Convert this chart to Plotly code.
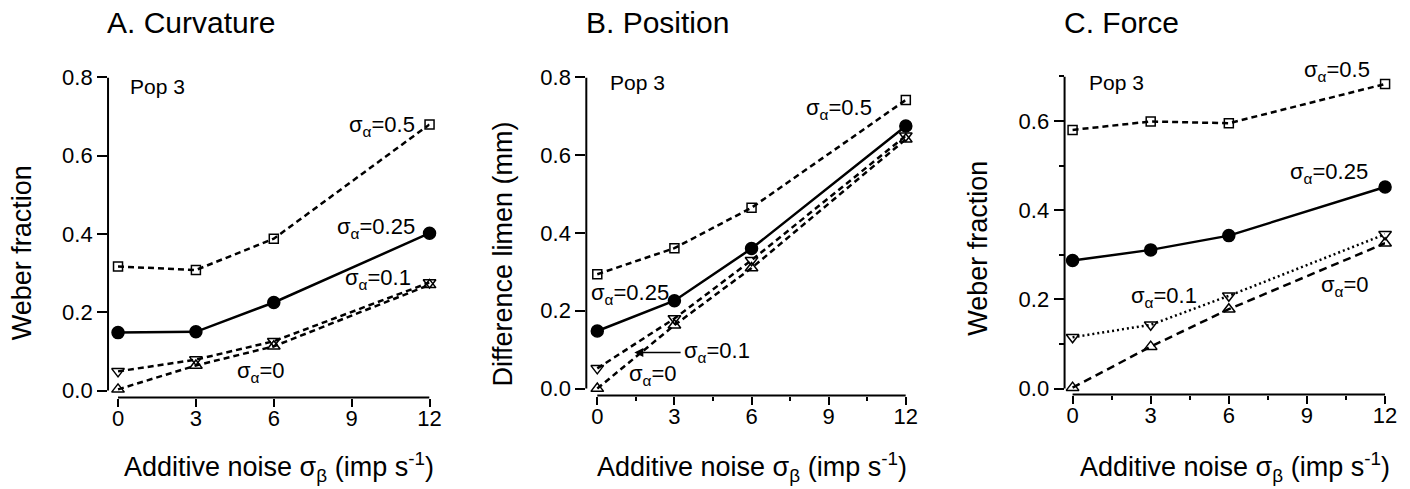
import plotly.graph_objects as go

# ---------------- data ----------------
noise = [0, 3, 6, 12]
x_ticks = [0, 3, 6, 9, 12]

# Panel A: Curvature (Weber fraction)
curv_s05 = [0.317, 0.308, 0.388, 0.680]
curv_s025 = [0.148, 0.150, 0.225, 0.402]
curv_s01 = [0.049, 0.079, 0.126, 0.276]
curv_s0 = [0.003, 0.064, 0.113, 0.270]

# Panel B: Position (Difference limen, mm)
pos_s05 = [0.294, 0.361, 0.465, 0.742]
pos_s025 = [0.148, 0.226, 0.360, 0.675]
pos_s01 = [0.052, 0.180, 0.330, 0.650]
pos_s0 = [0.000, 0.163, 0.310, 0.641]

# Panel C: Force (Weber fraction)
force_s05 = [0.580, 0.599, 0.595, 0.683]
force_s025 = [0.287, 0.311, 0.343, 0.452]
force_s01 = [0.115, 0.143, 0.208, 0.346]
force_s0 = [0.002, 0.094, 0.178, 0.326]

panel_titles = ["A. Curvature", "B. Position", "C. Force"]
y_titles = ["Weber fraction", "Difference limen (mm)", "Weber fraction"]
x_title = "Additive noise σ<sub>β</sub> (imp s<sup>-1</sup>)"
series_labels = ["σ<sub>α</sub>=0.5", "σ<sub>α</sub>=0.25", "σ<sub>α</sub>=0.1", "σ<sub>α</sub>=0"]

FONT = "Liberation Sans, Arial, sans-serif"
W, H = 1410, 489

# layout positions are given in target-picture pixels, corrected for the
# offset/scale observed between the figure and the captured picture
def fx(s):
    return (s + 0.2) / 0.993

def fy(s):
    return (s - 12.85) / 0.9596

def px_x(s):
    return fx(s) / W

def px_y(s):
    return 1 - fy(s) / H

fig = go.Figure()

panels = [
    dict(data=[curv_s05, curv_s025, curv_s01, curv_s0],
         dashes=["6px,4px", "solid", "6px,4px", "6px,4px"],
         xdom=(108, 430), ydom=(78, 397), xr=[-0.385, 12.0001], yr=[-0.0180, 0.8001],
         ytop=0.8, ymin_minor=False, xminor=False),
    dict(data=[pos_s05, pos_s025, pos_s01, pos_s0],
         dashes=["6px,4px", "solid", "6px,4px", "6px,4px"],
         xdom=(587, 907), ydom=(78, 395), xr=[-0.427, 12.0001], yr=[-0.018, 0.8001],
         ytop=0.8, ymin_minor=False, xminor=True),
    dict(data=[force_s05, force_s025, force_s01, force_s0],
         dashes=["6px,4px", "solid", "2px,3px", "8px,5px"],
         xdom=(1066, 1387), ydom=(77, 394), xr=[-0.307, 12.0001], yr=[-0.0135, 0.7001],
         ytop=0.7, ymin_minor=True, xminor=True),
]

symbols = ["square-open", "circle", "triangle-down-open", "triangle-up-open"]
sizes = [9, 12, 11, 11]

for i, p in enumerate(panels):
    n = "" if i == 0 else str(i + 1)
    xa, ya = "x" + n, "y" + n
    for k, ys in enumerate(p["data"]):
        fig.add_trace(go.Scatter(
            x=noise, y=ys, xaxis=xa, yaxis=ya, mode="lines+markers",
            line=dict(color="black", width=2.5, dash=p["dashes"][k]),
            marker=dict(symbol=symbols[k], size=sizes[k], color="black",
                        line=dict(color="black", width=1.5)),
            cliponaxis=False, showlegend=False, hoverinfo="skip"))
    xaxis = dict(domain=[px_x(p["xdom"][0]), px_x(p["xdom"][1])], range=p["xr"],
                 anchor=ya, tickmode="array", tickvals=x_ticks, ticks="outside",
                 ticklen=8, tickwidth=2, tickcolor="black", showline=False,
                 showgrid=False, zeroline=False, ticklabelstandoff=-7,
                 tickfont=dict(family=FONT, size=22, color="black"))
    if p["xminor"]:
        xaxis["minor"] = dict(ticks="outside", ticklen=4, tickwidth=1.5,
                              tickcolor="black", tickvals=[1.5, 4.5, 7.5, 10.5], showgrid=False)
    yaxis = dict(domain=[px_y(p["ydom"][1]), px_y(p["ydom"][0])], range=p["yr"],
                 anchor=xa, tick0=0, dtick=0.2, tickformat=".1f", ticks="outside",
                 ticklen=10, tickwidth=2, tickcolor="black", showline=False,
                 showgrid=False, zeroline=False,
                 tickfont=dict(family=FONT, size=22, color="black"))
    if p["ymin_minor"]:
        yaxis["minor"] = dict(ticks="outside", ticklen=5, tickwidth=1.5,
                              tickcolor="black", dtick=0.1, showgrid=False)
    fig.update_layout(**{"xaxis" + n: xaxis, "yaxis" + n: yaxis})
    # detached axis lines
    fig.add_shape(type="line", xref=xa + " domain", yref=ya, x0=0, x1=0, y0=0, y1=p["ytop"],
                  line=dict(color="black", width=2))
    fig.add_shape(type="line", xref=xa, yref=ya + " domain", x0=0, x1=12, y0=0, y1=0,
                  line=dict(color="black", width=2))

def ann(text, x, y, xref="paper", yref="paper", size=22, xanchor="center", yanchor="middle", angle=0):
    fig.add_annotation(text=text, x=x, y=y, xref=xref, yref=yref, showarrow=False,
                       font=dict(family=FONT, size=size, color="black"),
                       xanchor=xanchor, yanchor=yanchor, textangle=angle)

# panel titles
title_left = [105, 585, 1063]
for i, t in enumerate(panel_titles):
    ann(t, px_x(title_left[i]), px_y(23), size=30, xanchor="left")

# axis titles
xt_center = [279, 753, 1237]
yt_center = [(22, 253), (504, 254), (979, 248)]
for i in range(3):
    ann(x_title, px_x(xt_center[i]), px_y(466), size=27)
    ann(y_titles[i], px_x(yt_center[i][0]), px_y(yt_center[i][1]), size=27, angle=-90)

# Pop 3 labels
ann("Pop 3", 0.40, 0.777, "x", "y", size=21, xanchor="left")
ann("Pop 3", 0.40, 0.787, "x2", "y2", size=21, xanchor="left")
ann("Pop 3", 0.55, 0.686, "x3", "y3", size=21, xanchor="left")

# series labels, panel A
ann(series_labels[0], 11.5, 0.675, "x", "y", xanchor="right")
ann(series_labels[1], 11.5, 0.415, "x", "y", xanchor="right")
ann(series_labels[2], 11.35, 0.284, "x", "y", xanchor="right")
ann(series_labels[3], 5.5, 0.048, "x", "y")

# series labels, panel B
ann(series_labels[0], 10.76, 0.72, "x2", "y2", xanchor="right")
ann(series_labels[1], -0.31, 0.242, "x2", "y2", xanchor="left")
ann(series_labels[2], 3.3, 0.095, "x2", "y2", xanchor="left")
ann(series_labels[3], 1.17, 0.036, "x2", "y2", xanchor="left")
fig.add_annotation(x=1.44, y=0.093, ax=3.3, ay=0.093, xref="x2", yref="y2",
                   axref="x2", ayref="y2", showarrow=True, arrowhead=2, arrowsize=1.2,
                   arrowwidth=1.5, arrowcolor="black", text="")

# series labels, panel C (top label sits above the axis range -> paper coords)
ann(series_labels[0], px_x(1374), px_y(72), xanchor="right")
ann(series_labels[1], 11.43, 0.483, "x3", "y3", xanchor="right")
ann(series_labels[2], 2.15, 0.206, "x3", "y3", xanchor="left")
ann(series_labels[3], 11.46, 0.229, "x3", "y3", xanchor="right")

fig.update_layout(width=W, height=H, margin=dict(l=0, r=0, t=0, b=0),
                  paper_bgcolor="white", plot_bgcolor="white",
                  font=dict(family=FONT, color="black"))

PAGE_FIX = (
    "document.documentElement.style.margin='0';"
    "document.body.style.margin='0';"
    "document.body.style.overflow='hidden';"
)

fig.write_html("out.html", config={"displayModeBar": False}, post_script=PAGE_FIX)
